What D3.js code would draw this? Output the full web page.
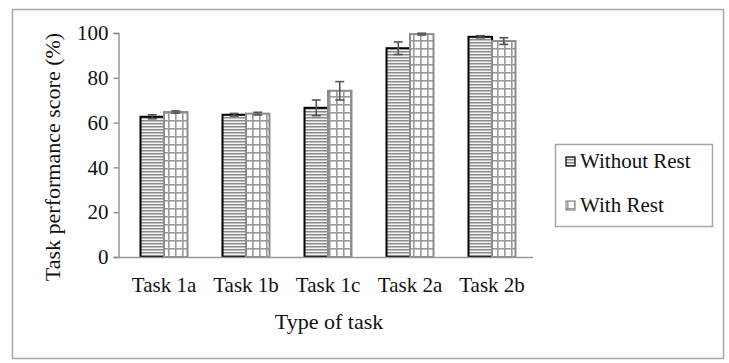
<!DOCTYPE html>
<html>
<head>
<meta charset="utf-8">
<script src="https://cdn.jsdelivr.net/npm/d3@7"></script>
<style>
  body { margin: 0; background: #fff; }
  text { font-family: "Liberation Serif", "Times New Roman", serif; fill: #111; }
</style>
</head>
<body>
<svg id="chart-svg" width="729" height="363"></svg>
<script>
// data
const tasks = ['Task 1a', 'Task 1b', 'Task 1c', 'Task 2a', 'Task 2b'];
const seriesNames = ['Without Rest', 'With Rest'];
const withoutRest = [62.6, 63.5, 66.6, 93.2, 98.3];
const withoutRestErr = [0.9, 0.6, 3.5, 2.8, 0.5];
const withRest = [64.7, 64.0, 74.2, 99.5, 96.4];
const withRestErr = [0.5, 0.6, 4.1, 0.4, 1.5];
const yTicks = [0, 20, 40, 60, 80, 100];

let svg = d3.select('#chart-svg');
let defs = svg.append('defs');

// horizontal stripes for "Without Rest"
let hp = defs.append('pattern')
    .attr('id', 'hstripe')
    .attr('patternUnits', 'userSpaceOnUse')
    .attr('width', 6).attr('height', 3);
hp.append('rect').attr('width', 6).attr('height', 3).attr('fill', '#f4f4f4');
hp.append('rect').attr('y', 0).attr('width', 6).attr('height', 1.5).attr('fill', '#8a8a8a');

// grid for "With Rest"
let gp = defs.append('pattern')
    .attr('id', 'grid')
    .attr('patternUnits', 'userSpaceOnUse')
    .attr('width', 7).attr('height', 8);
gp.append('rect').attr('width', 7).attr('height', 8).attr('fill', '#fff');
gp.append('rect').attr('x', 0).attr('width', 1.6).attr('height', 8).attr('fill', '#9a9a9a');
gp.append('rect').attr('y', 0).attr('width', 7).attr('height', 1.6).attr('fill', '#9a9a9a');

// outer frame
svg.append('rect')
    .attr('x', 12.5).attr('y', 9.5)
    .attr('width', 711).attr('height', 349)
    .attr('fill', 'none').attr('stroke', '#a6a6a6').attr('stroke-width', 1.5);

let x = d3.scaleBand().domain(tasks).range([123, 533]).paddingInner(0.427).paddingOuter(0.2135);
let xs = d3.scaleBand().domain(seriesNames).range([0, x.bandwidth()]);
let y = d3.scaleLinear().domain([0, 100]).range([257, 33]);

// y axis
const yAxisGroup = svg.append('g').attr('transform', 'translate(118.5,0)');
yAxisGroup.call(d3.axisLeft(y).tickValues(yTicks).tickSize(5).tickSizeOuter(5).tickPadding(5));
yAxisGroup.attr('font-family', '"Liberation Serif", serif').attr('font-size', 21);
yAxisGroup.select('.domain').attr('stroke', '#888').attr('stroke-width', 1.3);
yAxisGroup.selectAll('.tick line').attr('stroke', '#888').attr('stroke-width', 1.3);
yAxisGroup.selectAll('.tick text').attr('fill', '#111');

// bars
const series = [
    { name: 'Without Rest', vals: withoutRest, errs: withoutRestErr, fill: 'url(#hstripe)', stroke: '#000' },
    { name: 'With Rest', vals: withRest, errs: withRestErr, fill: 'url(#grid)', stroke: '#8c8c8c' }
];

series.forEach(s => {
    let g = svg.append('g');
    g.selectAll('rect').data(tasks).enter().append('rect')
        .attr('x', d => x(d) + xs(s.name))
        .attr('y', (d, i) => y(s.vals[i]))
        .attr('width', xs.bandwidth())
        .attr('height', (d, i) => y(0) - y(s.vals[i]))
        .attr('fill', s.fill)
        .attr('stroke', s.stroke)
        .attr('stroke-width', 2);
});

// error bars
series.forEach(s => {
    let g = svg.append('g').attr('stroke', '#555').attr('stroke-width', 1.6);
    tasks.forEach((t, i) => {
        let cx = x(t) + xs(s.name) + xs.bandwidth() / 2;
        let hi = y(s.vals[i] + s.errs[i]);
        let lo = y(s.vals[i] - s.errs[i]);
        g.append('line').attr('x1', cx).attr('x2', cx).attr('y1', hi).attr('y2', lo);
        g.append('line').attr('x1', cx - 4.5).attr('x2', cx + 4.5).attr('y1', hi).attr('y2', hi);
        g.append('line').attr('x1', cx - 4.5).attr('x2', cx + 4.5).attr('y1', lo).attr('y2', lo);
    });
});

// x axis
const xAxisGroup = svg.append('g').attr('transform', 'translate(0,257.5)');
xAxisGroup.call(d3.axisBottom(x).tickSize(0).tickPadding(20));
xAxisGroup.attr('font-family', '"Liberation Serif", serif').attr('font-size', 21);
xAxisGroup.select('.domain').attr('d', 'M118,0H533').attr('stroke', '#999').attr('stroke-width', 1.6);
xAxisGroup.selectAll('.tick text').attr('fill', '#111');

// axis titles
svg.append('text')
    .attr('x', 329).attr('y', 329)
    .attr('text-anchor', 'middle').attr('font-size', 22)
    .text('Type of task');

svg.append('text')
    .attr('transform', 'translate(60,157) rotate(-90)')
    .attr('text-anchor', 'middle').attr('font-size', 22)
    .text('Task performance score (%)');

// legend
let legend = svg.append('g');
legend.append('rect')
    .attr('x', 555.5).attr('y', 144.5).attr('width', 157).attr('height', 82)
    .attr('fill', '#fff').attr('stroke', '#a6a6a6').attr('stroke-width', 1.5);

let legendY = d3.scalePoint().domain(seriesNames).range([168, 212]);
series.forEach(s => {
    let ly = legendY(s.name);
    legend.append('rect')
        .attr('x', 566).attr('y', ly - 11).attr('width', 9).attr('height', 9)
        .attr('fill', s.fill).attr('stroke', s.stroke).attr('stroke-width', 1.2);
    legend.append('text')
        .attr('x', 580).attr('y', ly)
        .attr('font-size', 21)
        .text(s.name);
});
</script>
</body>
</html>
